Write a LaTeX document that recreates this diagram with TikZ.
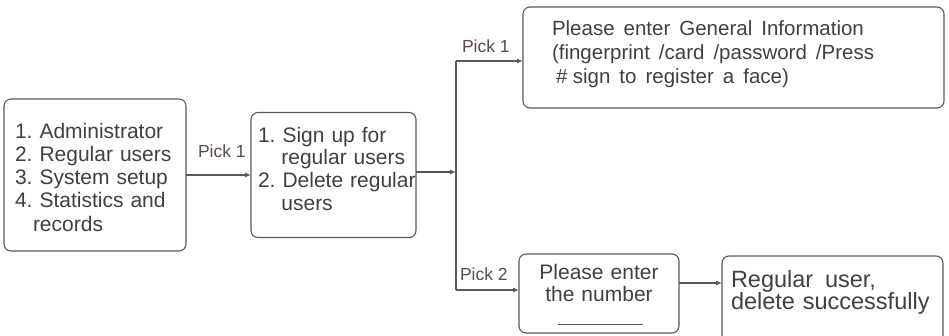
\documentclass[tikz,border=0pt]{standalone}
\usepackage{fontspec}
\setmainfont{Liberation Sans}
\usetikzlibrary{arrows.meta}
\frenchspacing
\newcommand{\widesp}{\spaceskip=9pt plus 1pt\relax}
\definecolor{linec}{HTML}{595959}
\definecolor{textc}{HTML}{404040}
\definecolor{labc}{HTML}{5A4A4A}
\tikzset{
  box/.style={draw=linec, line width=1.1pt, rounded corners=7pt, inner sep=0pt, outer sep=0pt},
  arr/.style={draw=linec, line width=1.1pt, -{Latex[length=6pt,width=5pt]}},
  conn/.style={draw=linec, line width=1.1pt},
  txt/.style={inner sep=0pt, outer sep=0pt, text=textc, anchor=base west, align=left},
  lab/.style={inner sep=0pt, outer sep=0pt, text=labc, anchor=base west, font=\fontsize{17.5}{20}\selectfont}
}
\begin{document}
\begin{tikzpicture}[x=1pt, y=-1pt]
\useasboundingbox (0,0) rectangle (949,335);
\clip (0,0) rectangle (949,335);
% boxes
\node[box, minimum width=182pt, minimum height=152pt] (b1) at (95,175) {};
\node[box, minimum width=165pt, minimum height=125pt] (b2) at (333.5,175) {};
\node[box, minimum width=421pt, minimum height=101pt] (b3) at (733.5,57.5) {};
\node[box, minimum width=160pt, minimum height=79pt] (b4) at (599,293.5) {};
\node[box, minimum width=221pt, minimum height=90pt] (b5) at (832.5,301) {};
% texts
\node[txt, text width=170pt, font=\fontsize{21}{23.3}\selectfont] (t1) at (15,138)
  {1. Administrator\\2. Regular users\\3. System setup\\4. Statistics and\\\hspace*{18pt}records};
\node[txt, text width=170pt, font=\fontsize{21}{22.7}\selectfont] (t2) at (258,142)
  {1. Sign up for\\\hspace*{23.4pt}regular users\\2. Delete regular\\\hspace*{23.4pt}users};
\node[txt, text width=400pt, font=\fontsize{20.5}{24}\selectfont] (t3) at (552,35)
  {\widesp Please enter General Information\\(fingerprint /card /password /Press\\\hspace*{4pt}\#\hspace{5.5pt}sign to register a face)};
\node[txt, anchor=base, align=center, text width=150pt, font=\fontsize{21}{22}\selectfont] (t4) at (599,279)
  {Please enter\\the number};
\node[txt, text width=215pt, font=\fontsize{23.5}{22}\selectfont] (t5) at (731,287)
  {Regular\hspace{0.5em}user,\\delete successfully};
% connectors
\coordinate (split) at (456,172);
\coordinate (top) at (456,61);
\coordinate (bot) at (456,290);
\draw[arr] (b1.east) -- (b2.west);
\draw[arr] (b2.east |- split) -- (split);
\draw[conn] (top) -- (bot);
\draw[arr] (top) -- (top -| b3.west);
\draw[arr] (bot) -- (bot -| b4.west);
\draw[arr] (b4.east |- 0,283) -- (b5.west |- 0,283);
\draw[conn, line width=1pt] (558,324) -- (643,324);
% labels
\node[lab] (l1) at (198,157) {Pick 1};
\node[lab] (l2) at (462,52) {Pick 1};
\node[lab] (l3) at (460,280) {Pick 2};
\end{tikzpicture}
\end{document}
